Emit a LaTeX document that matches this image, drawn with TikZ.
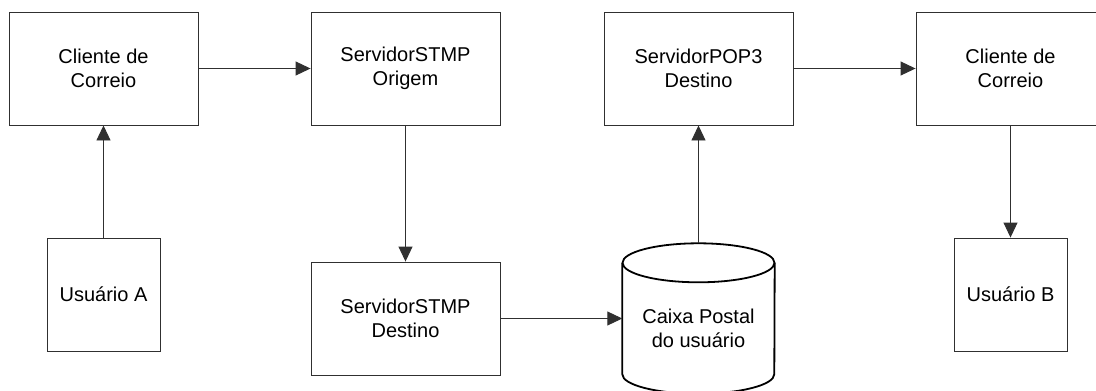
\documentclass[tikz,border=0pt]{standalone}
\usepackage{fontspec}
\setmainfont{Liberation Sans}
\usepackage{xcolor}
\usepackage{tikz}
\usetikzlibrary{arrows.meta, positioning}
\definecolor{linegray}{HTML}{303030}

\begin{document}
\begin{tikzpicture}[x=1pt, y=-1pt,
      box/.style={draw=linegray, line width=0.9pt, minimum width=189pt, minimum height=113pt, inner sep=0pt, align=center, font=\fontsize{20}{23.5}\selectfont},
      userbox/.style={box, minimum width=113pt},
      flow/.style={draw=linegray, line width=0.9pt, -{Triangle[length=15pt, width=14pt]}},
      cyl/.style={draw=black, line width=1.8pt}]
    \useasboundingbox (0,0) rectangle (1096,391);
    \clip (0,0) rectangle (1096,391);
    % top row
    \node[box] (clienteA) at (103.5,68.5) {Cliente de\\Correio};
    \node[box] (smtpOrigem) at (405.5,68.5) {ServidorSTMP\\Origem};
    \node[box] (pop3) at (698.5,68.5) {ServidorPOP3\\Destino};
    \node[box] (clienteB) at (1010.5,68.5) {Cliente de\\Correio};
    % bottom row
    \node[userbox] (usuarioA) at (103.5,294.5) {Usuário A};
    \node[box] (smtpDestino) at (405.5,318.5) {ServidorSTMP\\Destino};
    \node[minimum width=152pt, minimum height=150pt, inner sep=0pt] (caixa) at (698.5,318.5) {};
    \node[align=center, font=\fontsize{20}{23.5}\selectfont] (caixaTxt) at ([yshift=-10pt]caixa.center) {Caixa Postal\\do usuário};
    \node[userbox] (usuarioB) at (1010.5,294.5) {Usuário B};
    % mailbox cylinder
    \path (caixa.north) ++(0,19.5) coordinate (cylTop);
    \path (caixa.south) ++(0,-19.5) coordinate (cylBot);
    \draw[cyl, fill=white] (cylTop) ellipse [x radius=76pt, y radius=19.5pt];
    \draw[cyl] (caixa.west |- cylTop) -- (caixa.west |- cylBot)
      arc[start angle=180, end angle=360, x radius=76pt, y radius=19.5pt]
      -- (caixa.east |- cylTop);
    % connectors
    \draw[flow] (usuarioA) -- (clienteA);
    \draw[flow] (clienteA) -- (smtpOrigem);
    \draw[flow] (smtpOrigem) -- (smtpDestino);
    \draw[flow] (smtpDestino.east) -- (caixa.west);
    \draw[flow] (caixa.north) -- (pop3.south);
    \draw[flow] (pop3) -- (clienteB);
    \draw[flow] (clienteB) -- (usuarioB);
\end{tikzpicture}
\end{document}
